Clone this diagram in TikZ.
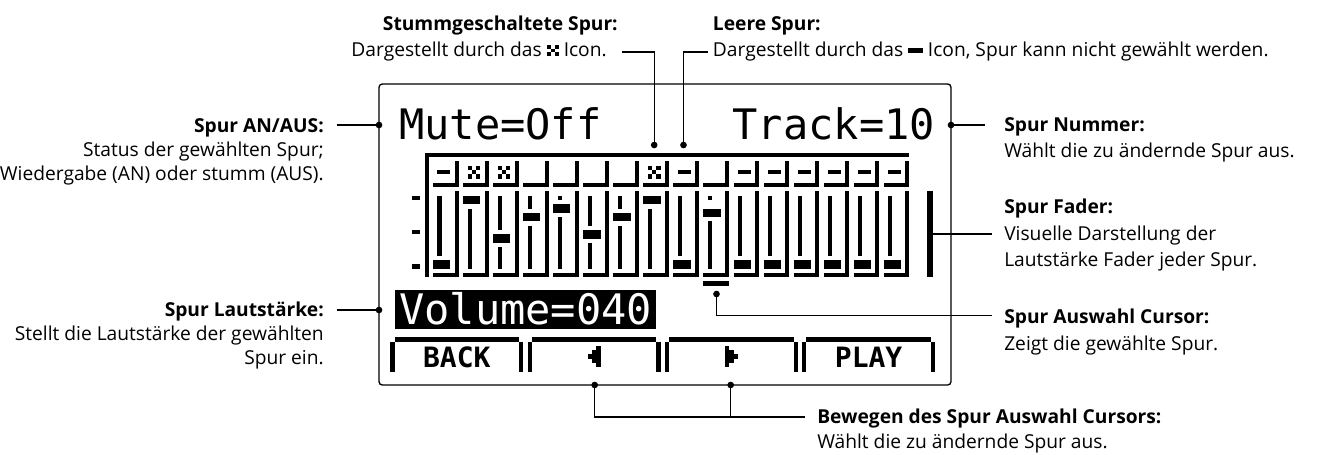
\documentclass[tikz,border=0pt]{standalone}
\usepackage{fontspec}
\setmainfont{Open Sans}
\newfontfamily\lcdfont{DejaVu Sans Mono}
\newcommand\muteglyph{\vbox{\offinterlineskip
  \hbox{\rule{3pt}{2.7pt}\kern3pt\rule{3pt}{2.7pt}}
  \hbox{\kern3pt\rule{3pt}{2.7pt}}
  \hbox{\rule{3pt}{2.7pt}\kern3pt\rule{3pt}{2.7pt}}}}
\newcommand\emptyglyph{\rule[2pt]{11pt}{4pt}}
\begin{document}
\begin{tikzpicture}[x=0.75pt,y=-0.75pt,
  conn/.style={line width=0.9pt},
  dotc/.style={circle,fill,inner sep=0pt,minimum size=5pt},
  ttl/.style={font=\bfseries\fontsize{14.4}{16}\selectfont,inner sep=0pt},
  bdy/.style={font=\fontsize{14.4}{16}\selectfont,inner sep=0pt},
  lcd/.style={font=\lcdfont\fontsize{31.5}{32}\selectfont,inner sep=0pt},
  btn/.style={font=\lcdfont\bfseries\fontsize{21}{22}\selectfont,inner sep=0pt}]
\useasboundingbox (0,0) rectangle (1321,454);

% LCD frame
\draw[line width=1pt,rounded corners=2.5pt] (379,84) rectangle (951,385);

% LCD pixel content
\begin{scope}[shift={(292.725pt,-72.75pt)},x=3.2175pt,y=-3.2175pt]
  \node[lcd,anchor=base west] (mute) at (2,10) {Mute=Off};
  \node[lcd,anchor=base east] (track) at (127,10) {Track=10};
  % mixer frame
  \fill (8,13) rectangle (121,14);
  \fill (8,13) rectangle (9,42);
  \foreach \r in {23,31,39} \fill (5,\r) rectangle (7,\r+1);
  % columns: k / icon / cap row / end of line above cap
  \foreach \k/\ic/\cp/\ae in {1/e/38/36,2/m/23/0,3/m/32/30,4/n/27/25,5/n/25/23,
      6/n/31/29,7/n/27/25,8/m/23/0,9/e/38/36,10/n/26/23,11/e/38/36,12/e/38/36,
      13/e/38/36,14/e/38/36,15/e/38/36,16/e/38/36}{
    \pgfmathtruncatemacro\c{10+7*(\k-1)}
    \pgfmathtruncatemacro\bs{\cp+3}
    % icon cell
    \fill (\c+5,15) rectangle (\c+6,21);
    \fill (\c,20) rectangle (\c+5,21);
    \if\ic e \fill (\c+1,17) rectangle (\c+4,18);\fi
    \if\ic m
      \fill (\c+1,16) rectangle (\c+2,17);
      \fill (\c+3,16) rectangle (\c+4,17);
      \fill (\c+2,17) rectangle (\c+3,18);
      \fill (\c+1,18) rectangle (\c+2,19);
      \fill (\c+3,18) rectangle (\c+4,19);
    \fi
    % fader cell
    \fill (\c+5,22) rectangle (\c+6,42);
    \fill (\c,41) rectangle (\c+5,42);
    \ifnum\ae>22 \fill (\c+1,23) rectangle (\c+2,\ae+1);\fi
    \ifnum\bs<40 \fill (\c+1,\bs) rectangle (\c+2,40);\fi
    \fill (\c,\cp) rectangle (\c+4,\cp+2);
  }
  % fader bar and cursor
  \fill (125,22) rectangle (126.5,42);
  \fill (73,43) rectangle (79,44);
  % volume
  \fill (1,45) rectangle (62,54);
  \node[lcd,text=white,anchor=base west] (vol) at (2,53) {Volume=040};
  % buttons
  \foreach \b in {0,1,2,3}{
    \fill (32*\b,57) rectangle (32*\b+1,64);
    \fill (32*\b+1,56) rectangle (32*\b+30,57);
    \fill (32*\b+30,57) rectangle (32*\b+31,64);
  }
  \node[btn,anchor=base] (back) at (15.5,63) {BACK};
  \node[btn,anchor=base] (play) at (111.5,63) {PLAY};
  % arrows
  \fill (46,60) rectangle (47,61);
  \fill (47,59) rectangle (48,62);
  \fill (48,58) rectangle (49,63);
  \fill (78,58) rectangle (79,63);
  \fill (79,59) rectangle (80,62);
  \fill (80,60) rectangle (81,61);
\end{scope}

% dots
\node[dotc] (dAN) at (379,125) {};
\node[dotc] (dVol) at (379,310) {};
\node[dotc] (dTrk) at (951,125) {};
\node[dotc] (dMute) at (654.2,145) {};
\node[dotc] (dEmpty) at (683.5,145) {};
\node[dotc] (dCur) at (716.5,294) {};
\node[dotc] (dLeft) at (594.7,385) {};
\node[dotc] (dRight) at (730.7,385) {};

% free ends / bends
\coordinate (eAN) at (336.7,125);
\coordinate (eVol) at (336.7,310);
\coordinate (eTrk) at (985,125);
\coordinate (sFad) at (933,234);
\coordinate (eFad) at (992,234);
\coordinate (eCur) at (992,315.7);
\coordinate (eMute) at (622,52);
\coordinate (eEmpty) at (708,52);
\coordinate (eMove) at (805,417);

% connectors
\draw[conn] (eAN) -- (dAN.center);
\draw[conn] (eVol) -- (dVol.center);
\draw[conn] (dTrk.center) -- (eTrk);
\draw[conn] (sFad) -- (eFad);
\draw[conn] (dCur.center) |- (eCur);
\draw[conn] (eMute) -| (dMute.center);
\draw[conn] (dEmpty.center) |- (eEmpty);
\draw[conn] (dLeft.center) |- (eMove);
\draw[conn] (dRight.center) -- (dRight.center |- eMove);

% labels left
\node[ttl,anchor=base east] (tAN) at (324,132.7) {Spur AN/AUS:};
\node[bdy,anchor=base east] (tAN1) at (324,156.3) {Status der gewählten Spur;};
\node[bdy,anchor=base east] (tAN2) at (324,180) {Wiedergabe (AN) oder stumm (AUS).};
\node[ttl,anchor=base east] (tVol) at (324,316.7) {Spur Lautstärke:};
\node[bdy,anchor=base east] (tVol1) at (324,340.5) {Stellt die Lautstärke der gewählten};
\node[bdy,anchor=base east] (tVol2) at (324,364.5) {Spur ein.};

% labels top
\node[ttl,anchor=base east] (tMute) at (618,30) {Stummgeschaltete Spur:};
\node[bdy,anchor=base east] (tMute1) at (607,56) {Dargestellt durch das \muteglyph\ Icon.};
\node[ttl,anchor=base west] (tEmpty) at (712.7,30) {Leere Spur:};
\node[bdy,anchor=base west] (tEmpty1) at (712.7,56) {Dargestellt durch das \emptyglyph\ Icon, Spur kann nicht gewählt werden.};

% labels right
\node[ttl,anchor=base west] (tTrk) at (1004,131) {Spur Nummer:};
\node[bdy,anchor=base west] (tTrk1) at (1004,157.3) {Wählt die zu ändernde Spur aus.};
\node[ttl,anchor=base west] (tFad) at (1004,213.3) {Spur Fader:};
\node[bdy,anchor=base west] (tFad1) at (1004,240.3) {Visuelle Darstellung der};
\node[bdy,anchor=base west] (tFad2) at (1004,266.5) {Lautstärke Fader jeder Spur.};
\node[ttl,anchor=base west] (tCur) at (1004,323.3) {Spur Auswahl Cursor:};
\node[bdy,anchor=base west] (tCur1) at (1004,350.5) {Zeigt die gewählte Spur.};
\node[ttl,anchor=base west] (tMove) at (817,423.3) {Bewegen des Spur Auswahl Cursors:};
\node[bdy,anchor=base west] (tMove1) at (817,448) {Wählt die zu ändernde Spur aus.};
\end{tikzpicture}
\end{document}
